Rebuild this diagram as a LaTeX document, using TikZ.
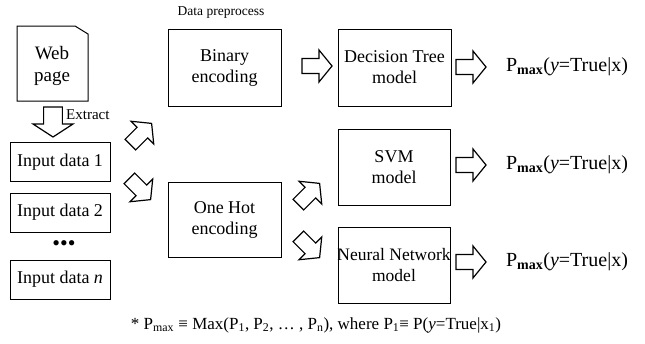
\documentclass[tikz,border=0pt]{standalone}
\usepackage{fontspec}
\setmainfont{Liberation Serif}
\usepackage{tikz}
\newcommand{\Pmax}{P\textsubscript{\textbf{max}}(\textit{y}=True|x)}

\tikzset{
  blockarrow/.pic={
    \draw[line width=1.2pt, fill=white, line join=miter]
      (-15,-7.5) -- (2,-7.5) -- (2,-16) -- (15,0) -- (2,16) -- (2,7.5) -- (-15,7.5) -- cycle;
  }
}

\begin{document}
\begin{tikzpicture}[x=1pt, y=-1pt,
    box/.style={draw, line width=1pt, minimum width=113pt, minimum height=77pt,
      align=center, font=\fontsize{18}{21}\selectfont},
    inbox/.style={draw, line width=1pt, minimum width=100pt, minimum height=39pt,
      font=\fontsize{18}{21}\selectfont},
    prob/.style={font=\fontsize{20}{23}\selectfont}]
				\useasboundingbox (0,0) rectangle (645,343);
				
				% Web page (document with cut corner)
				\draw[line width=1pt] (17,26) -- (75,26) -- (88,34) -- (88,101) -- (17,101) -- cycle;
				\node[align=center, font=\fontsize{19}{22}\selectfont] (web) at (52,66) {Web\\page};
				
				% Extract step
				\pic[rotate=-90, yscale=1.25] at (53,122) {blockarrow};
				\node[anchor=west, font=\fontsize{15}{17}\selectfont, inner sep=0pt] (extract) at (66,115) {Extract};
				
				% Input data boxes
				\node[inbox] (in1) at (60,162) {Input data 1};
				\node[inbox] (in2) at (60,212.5) {Input data 2};
				\node[font=\fontsize{22}{24}\selectfont] (dots) at (64,246) {\textbullet\textbullet\textbullet};
				\node[inbox] (inn) at (60,279.5) {Input data \textit{n}};
				
				% Arrows to the encodings
				\pic[rotate=45] at (141,134) {blockarrow};
				\pic[rotate=-45] at (140,189) {blockarrow};
				
				% Data preprocess
				\node[font=\fontsize{13.5}{16}\selectfont] (prep) at (221,13) {Data preprocess};
				\node[box] (bin) at (224.5,67.5) {Binary\\encoding};
				\node[box, minimum height=75pt] (onehot) at (224.5,219.5) {One Hot\\encoding};
				
				% Arrows to the models
				\pic at (317,66) {blockarrow};
				\pic[rotate=45] at (309,194) {blockarrow};
				\pic[rotate=-45] at (309,247) {blockarrow};
				
				% Models
				\node[box] (dt) at (394.5,67.5) {Decision Tree\\model};
				\node[box, minimum width=112pt, minimum height=76pt] (svm) at (394,167) {SVM\\model};
				\node[box, minimum width=112pt, minimum height=76pt] (nn) at (394,265) {};
				\node[align=center, font=\fontsize{17.5}{21}\selectfont] (nntext) at (nn.center) {Neural Network\\model};
				
				% Outputs
				\pic at (471,67) {blockarrow};
				\pic at (471,165) {blockarrow};
				\pic at (471,262) {blockarrow};
				\node[prob] (p1) at (567,67) {\Pmax};
				\node[prob] (p2) at (567,165) {\Pmax};
				\node[prob] (p3) at (567,262) {\Pmax};
				
				% Footnote
				\node[font=\fontsize{17}{20}\selectfont] (note) at (316,325)
				  {* P\textsubscript{max} ≡ Max(P\textsubscript{1}, P\textsubscript{2}, … , P\textsubscript{n}), where P\textsubscript{1}≡ P(\textit{y}=True|x\textsubscript{1})};
				
			\end{tikzpicture}
\end{document}
